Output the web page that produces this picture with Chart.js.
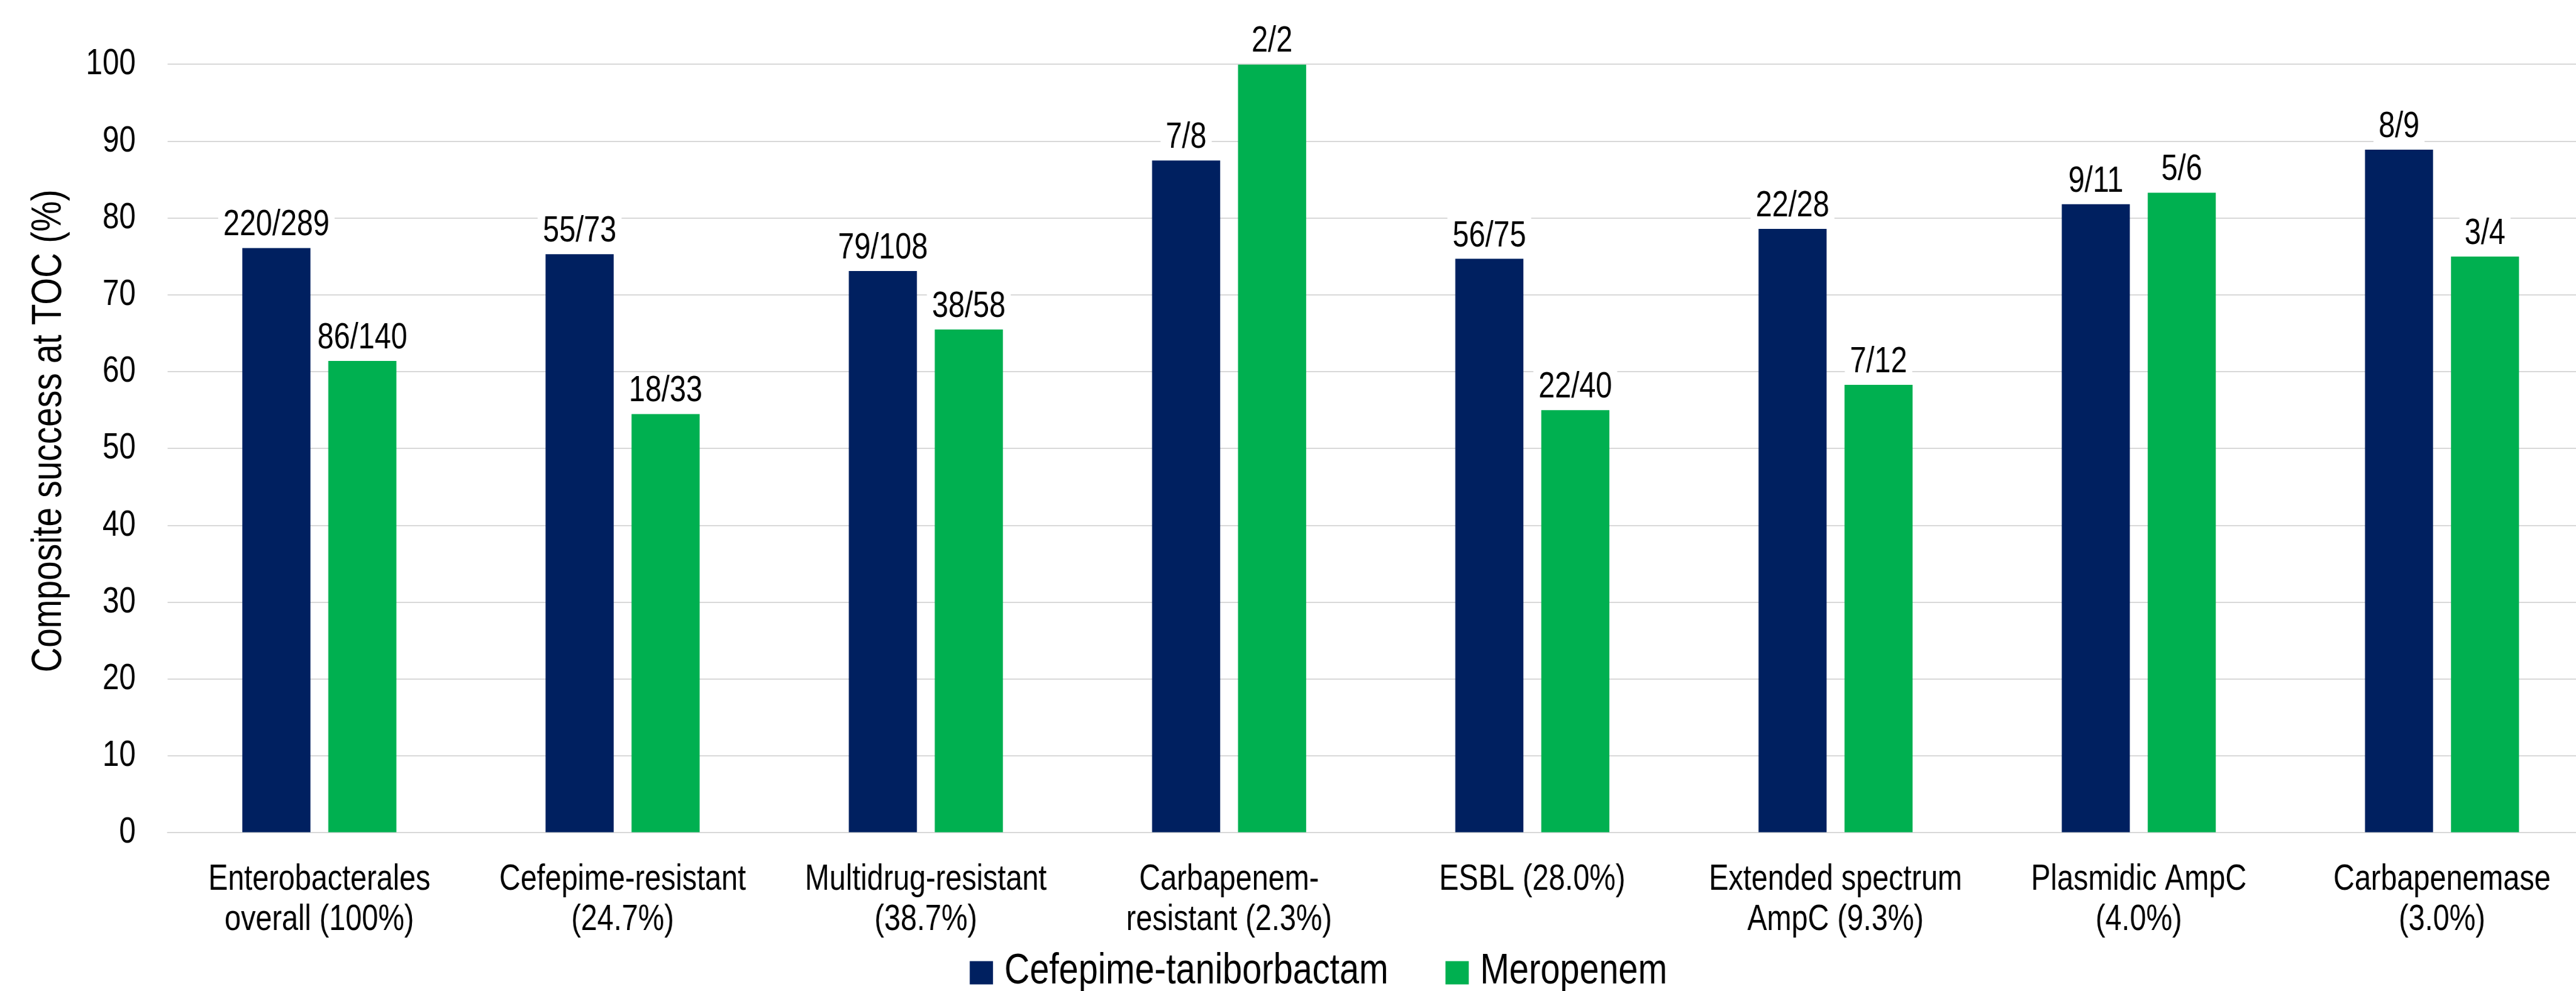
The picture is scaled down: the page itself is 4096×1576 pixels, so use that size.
<!DOCTYPE html>
<html>
<head>
<meta charset="utf-8">
<script src="https://cdn.jsdelivr.net/npm/chart.js@4.4.1/dist/chart.umd.min.js"></script>
<style>
  html, body { margin: 0; padding: 0; background: #fff; overflow: hidden; }
  #wrap { width: 4096px; height: 1576px; overflow: hidden; }
  /* the reference uses a narrow face; draw wide and squeeze the bitmap horizontally */
  #barChart { width: 4124px !important; height: 1576px !important; display: block; }
</style>
</head>
<body>
<div id="wrap"><canvas id="barChart" width="5030" height="1576" style="width:4124px;height:1576px"></canvas></div>
<script>
const categories = [
    ['Enterobacterales', 'overall (100%)'],
    ['Cefepime-resistant', '(24.7%)'],
    ['Multidrug-resistant', '(38.7%)'],
    ['Carbapenem-', 'resistant (2.3%)'],
    'ESBL (28.0%)',
    ['Extended spectrum', 'AmpC (9.3%)'],
    ['Plasmidic AmpC', '(4.0%)'],
    ['Carbapenemase', '(3.0%)']
];
const seriesNames = ['Cefepime-taniborbactam', 'Meropenem'];
const cefepimeValues = [76.1, 75.3, 73.1, 87.5, 74.7, 78.6, 81.8, 88.9];
const meropenemValues = [61.4, 54.5, 65.5, 100, 55.0, 58.3, 83.3, 75.0];
const cefepimeLabels = ['220/289', '55/73', '79/108', '7/8', '56/75', '22/28', '9/11', '8/9'];
const meropenemLabels = ['86/140', '18/33', '38/58', '2/2', '22/40', '7/12', '5/6', '3/4'];
const yTicks = [0, 10, 20, 30, 40, 50, 60, 70, 80, 90, 100];
const yTitle = 'Composite success at TOC (%)';

const colors = ['#002060', '#00B050'];
const FONT = "'Liberation Sans', Arial, sans-serif";
const SQ = 4124 / 5030; // horizontal squeeze applied by css

// counts above each bar, on a white box so the grid line breaks behind them
const barLabels = {
    id: 'barLabels',
    afterDatasetsDraw(chart) {
        const ctx = chart.ctx;
        ctx.save();
        ctx.font = '57px ' + FONT;
        ctx.textAlign = 'center';
        ctx.textBaseline = 'alphabetic';
        chart.data.datasets.forEach((ds, di) => {
            chart.getDatasetMeta(di).data.forEach((bar, i) => {
                const txt = ds.counts[i];
                const w = ctx.measureText(txt).width;
                const base = bar.y - 20;
                ctx.fillStyle = '#ffffff';
                ctx.fillRect(bar.x - w / 2 - 10, base - 46, w + 20, 54);
                ctx.fillStyle = '#000000';
                ctx.fillText(txt, bar.x, base);
            });
        });
        ctx.restore();
    }
};

// rotated axis title, pre-stretched so it reads as narrow text after the squeeze
const yAxisTitle = {
    id: 'yAxisTitle',
    afterDraw(chart) {
        const ctx = chart.ctx;
        const a = chart.chartArea;
        ctx.save();
        ctx.translate(chart.scales.y.left + 95, (a.top + a.bottom) / 2 - 28);
        ctx.rotate(-Math.PI / 2);
        ctx.scale(SQ * SQ, 1);
        ctx.font = (67 / SQ).toFixed(1) + 'px ' + FONT;
        ctx.fillStyle = '#000';
        ctx.textAlign = 'center';
        ctx.textBaseline = 'middle';
        ctx.fillText(yTitle, 0, 0);
        ctx.restore();
    }
};

// legend row under the axis labels
const legendRow = {
    id: 'legendRow',
    afterDraw(chart) {
        const ctx = chart.ctx;
        const box = 37 / SQ, boxH = 37, gap = 18 / SQ, itemGap = 91 / SQ;
        const cy = 1547, cx = 2557;
        ctx.save();
        ctx.font = '68px ' + FONT;
        ctx.textBaseline = 'middle';
        ctx.textAlign = 'left';
        const widths = seriesNames.map(t => ctx.measureText(t).width);
        const total = widths.reduce((s, w) => s + box + gap + w, 0) + itemGap * (seriesNames.length - 1);
        let x = cx - total / 2;
        seriesNames.forEach((name, i) => {
            ctx.fillStyle = colors[i];
            ctx.fillRect(x, cy - boxH / 2, box, boxH);
            ctx.fillStyle = '#000';
            ctx.fillText(name, x + box + gap, cy - 2);
            x += box + gap + widths[i] + itemGap;
        });
        ctx.restore();
    }
};

new Chart(document.getElementById('barChart'), {
    type: 'bar',
    data: {
        labels: categories,
        datasets: [{
            label: seriesNames[0],
            data: cefepimeValues,
            counts: cefepimeLabels,
            backgroundColor: colors[0],
            categoryPercentage: 0.567,
            barPercentage: 0.792
        }, {
            label: seriesNames[1],
            data: meropenemValues,
            counts: meropenemLabels,
            backgroundColor: colors[1],
            categoryPercentage: 0.567,
            barPercentage: 0.792
        }]
    },
    options: {
        responsive: false,
        animation: false,
        devicePixelRatio: 1,
        layout: { padding: { top: 102.4, left: 0, right: 0, bottom: 0 } },
        plugins: {
            legend: { display: false },
            tooltip: { enabled: false }
        },
        scales: {
            x: {
                grid: { display: false },
                border: { display: true, color: '#d9d9d9', width: 2 },
                ticks: {
                    color: '#000',
                    padding: 35.4,
                    maxRotation: 0,
                    autoSkip: false,
                    font: { family: FONT, size: 57, lineHeight: 1.12 }
                },
                afterFit(scale) { scale.height = 251.6; }
            },
            y: {
                min: 0,
                max: 100,
                afterBuildTicks(scale) { scale.ticks = yTicks.map(v => ({ value: v })); },
                grid: { color: '#d9d9d9', lineWidth: 2, drawTicks: false },
                border: { display: false },
                ticks: {
                    color: '#000',
                    padding: 62,
                    font: { family: FONT, size: 58 }
                },
                afterFit(scale) { scale.width = 325.3; }
            }
        }
    },
    plugins: [barLabels, yAxisTitle, legendRow]
});
</script>
</body>
</html>
